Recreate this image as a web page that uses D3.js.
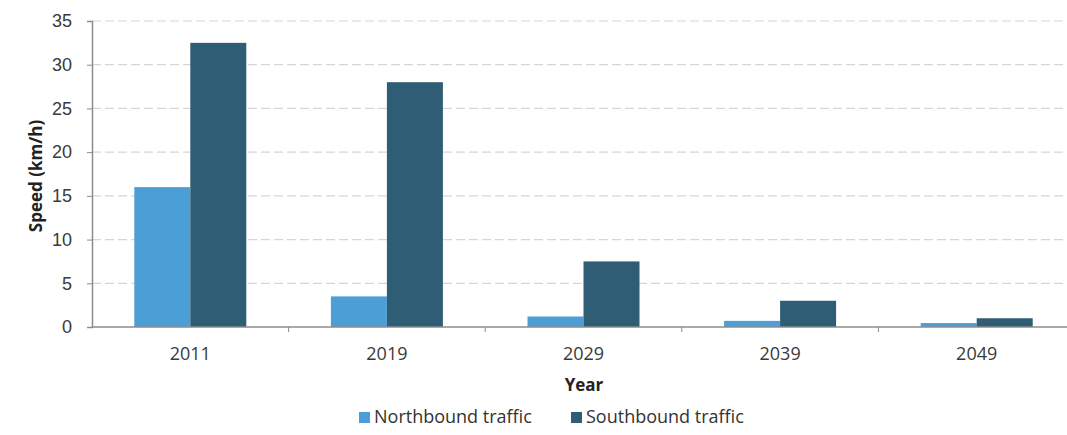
<!DOCTYPE html>
<html>
<head>
<meta charset="utf-8">
<script src="https://cdn.jsdelivr.net/npm/d3@7"></script>
<style>
  body { margin: 0; background: #fff; }
  svg { display: block; font-family: "Open Sans", sans-serif; }
</style>
</head>
<body>
<svg id="chart" width="1067" height="435"></svg>
<script>
// chart data
var years = ["2011", "2019", "2029", "2039", "2049"];
var northbound = [16, 3.5, 1.2, 0.7, 0.45];
var southbound = [32.5, 28, 7.5, 3, 1];
var seriesNames = ["Northbound traffic", "Southbound traffic"];
var yTicks = [0, 5, 10, 15, 20, 25, 30, 35];

var colors = ["#4c9fd6", "#2f5d75"];

function draw() {
  var svg = d3.select("#chart");
  var plotLeft = 92, plotRight = 1075, plotTop = 21, plotBottom = 327;

  var x = d3.scaleBand().domain(years).range([plotLeft, plotRight]);
  var y = d3.scaleLinear().domain([0, 35]).range([plotBottom, plotTop]);
  var barW = 56;

  // gridlines
  svg.append("g")
    .selectAll("line")
    .data(yTicks.slice(1))
    .enter()
    .append("line")
    .attr("x1", plotLeft)
    .attr("x2", plotRight)
    .attr("y1", function(d){ return y(d); })
    .attr("y2", function(d){ return y(d); })
    .attr("stroke", "#d6d6d6")
    .attr("stroke-width", 1.2)
    .attr("stroke-dasharray", "9,4");

  // bars
  var series = [northbound, southbound];
  series.forEach(function(vals, i) {
    svg.append("g")
      .selectAll("rect")
      .data(vals)
      .enter()
      .append("rect")
      .attr("x", function(d, j){ return x(years[j]) + x.bandwidth() / 2 - barW + i * barW; })
      .attr("y", function(d){ return y(d); })
      .attr("width", barW)
      .attr("height", function(d){ return plotBottom - y(d); })
      .attr("fill", colors[i]);
  });

  // y axis
  var yAxis = svg.append("g")
    .attr("transform", "translate(" + plotLeft + ",0)")
    .call(d3.axisLeft(y).tickValues(yTicks).tickSize(5).tickPadding(15));
  yAxis.select(".domain").attr("stroke", "#8c8c8c").attr("stroke-width", 1.5);
  yAxis.selectAll(".tick line").attr("stroke", "#8c8c8c");
  yAxis.selectAll("text").attr("font-size", 18).attr("fill", "#3a3a3a");

  // x axis: line plus ticks at band boundaries
  svg.append("line")
    .attr("x1", plotLeft).attr("x2", plotRight)
    .attr("y1", plotBottom).attr("y2", plotBottom)
    .attr("stroke", "#8c8c8c").attr("stroke-width", 1.5);
  svg.append("g")
    .selectAll("line")
    .data(years.slice(1))
    .enter()
    .append("line")
    .attr("x1", function(d){ return x(d); })
    .attr("x2", function(d){ return x(d); })
    .attr("y1", plotBottom)
    .attr("y2", plotBottom + 5)
    .attr("stroke", "#8c8c8c");
  svg.append("g")
    .selectAll("text")
    .data(years)
    .enter()
    .append("text")
    .attr("x", function(d){ return x(d) + x.bandwidth() / 2; })
    .attr("y", 360)
    .attr("text-anchor", "middle")
    .attr("font-size", 18)
    .attr("fill", "#3a3a3a")
    .text(function(d){ return d; });

  // axis titles
  svg.append("text")
    .attr("transform", "translate(42," + ((plotTop + plotBottom) / 2 + 2) + ") rotate(-90)")
    .attr("text-anchor", "middle")
    .attr("font-size", 17)
    .attr("font-weight", "bold")
    .attr("fill", "#222")
    .text("Speed (km/h)");
  svg.append("text")
    .attr("x", 584)
    .attr("y", 391)
    .attr("text-anchor", "middle")
    .attr("font-size", 17)
    .attr("font-weight", "bold")
    .attr("fill", "#222")
    .text("Year");

  // legend
  var legendX = [359, 571];
  seriesNames.forEach(function(name, i) {
    var g = svg.append("g").attr("transform", "translate(" + legendX[i] + ",423)");
    g.append("rect").attr("x", 0).attr("y", -11).attr("width", 11).attr("height", 11).attr("fill", colors[i]);
    g.append("text").attr("x", 15).attr("y", 0).attr("font-size", 18).attr("fill", "#333").text(name);
  });
}

draw();
</script>
</body>
</html>
